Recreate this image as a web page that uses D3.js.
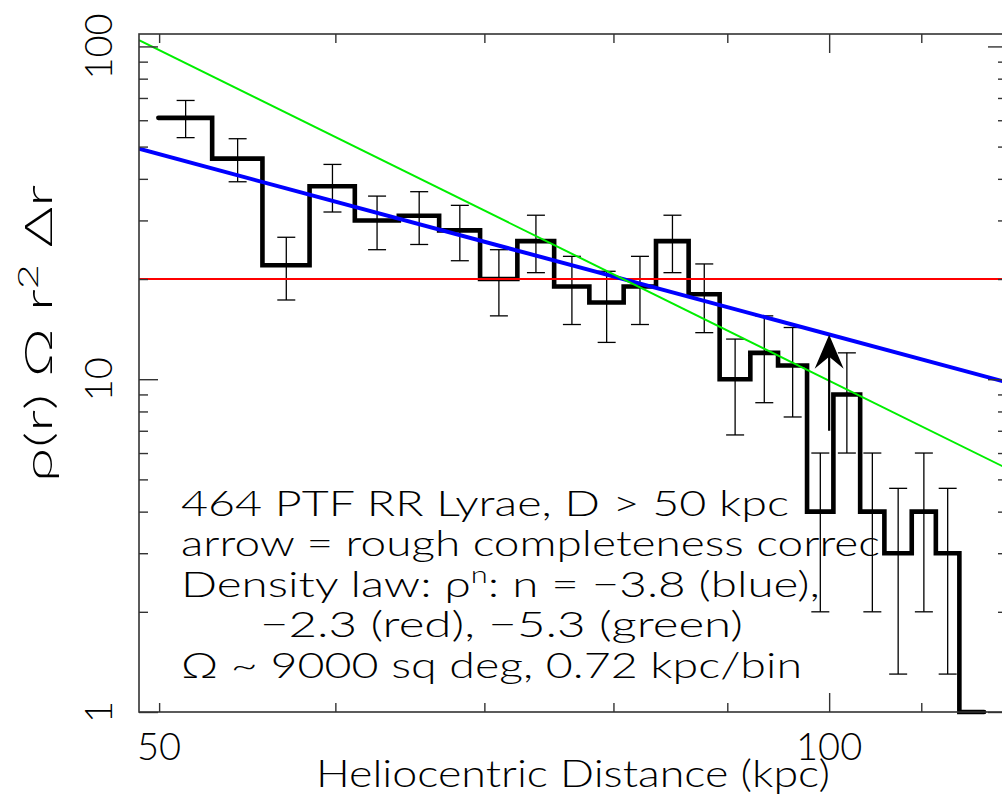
<!DOCTYPE html>
<html>
<head>
<meta charset="utf-8">
<script src="https://cdn.jsdelivr.net/npm/d3@7"></script>
<style>
  html, body { margin: 0; padding: 0; background: #fff; }
  svg { display: block; }
  text { font-family: Lato, "Liberation Sans", sans-serif; font-weight: 300; fill: #000; }
</style>
</head>
<body>
<svg id="chart" width="1002" height="801"></svg>
<script>
// ---------------- data ----------------
const binEdges = [49.96, 52.82, 55.64, 58.42, 61.22, 64.07, 66.80, 69.69, 72.43, 75.24, 78.03, 80.85,
                  83.60, 86.47, 89.29, 92.17, 94.85, 97.74, 100.44, 103.26, 105.88, 108.92, 111.67, 114.42, 117.39];
const counts = [61, 46, 22, 38, 30, 31, 28, 20, 26, 19, 17, 19, 26, 18, 10, 12, 11, 4, 9, 4, 3, 4, 3, 1];
const errors = [7.8, 6.8, 4.7, 6.2, 5.5, 5.6, 5.3, 4.5, 5.1, 4.4, 4.1, 4.4, 5.1, 4.2, 3.2, 3.5, 3.3, 2.0, 3.0, 2.0, 1.7, 2.0, 1.7, null];

// power-law fits  y = pivotY * (r / pivotR)^(slope)
const fitNames  = ["red", "blue", "green"];
const fitSlopes = [0, -1.8, -3.3];
const fitPivotR = 80.8;
const fitPivotY = 20;

// completeness-correction arrow
const arrowR = 100, arrowFrom = 7.0, arrowTo = 13.6;

const xMajorTicks = [100];
const xMinorTicks = [50, 60, 70, 80, 90, 110, 120];
const xTickLabels = [50, 100];
const yMajorTicks = [1, 10, 100];
const yMinorTicks = [2, 3, 4, 5, 6, 7, 8, 9, 20, 30, 40, 50, 60, 70, 80, 90];
const yTickLabels = [1, 10, 100];

const textLines = [
  "464 PTF RR Lyrae, D > 50 kpc",
  "arrow = rough completeness correc",
  "Density law: ρ|n|: n = −3.8 (blue),",
  "−2.3 (red), −5.3 (green)",
  "Ω ~ 9000 sq deg, 0.72 kpc/bin"
];

// ---------------- layout ----------------
const L = 139, R = 1007, T = 34, B = 712;
const svg = d3.select("#chart");
const x = d3.scaleLog().domain([48.97, 120.2]).range([L, R]);
const y = d3.scaleLog().domain([1, 108.97]).range([B, T]);

svg.append("defs").append("clipPath").attr("id", "clip")
  .append("rect").attr("x", L).attr("y", T).attr("width", R - L).attr("height", B - T + 4);

const plot = svg.append("g").attr("clip-path", "url(#clip)");

// histogram (step line)
const stepPts = [];
counts.forEach((c, i) => {
  stepPts.push([binEdges[i], c]);
  stepPts.push([binEdges[i + 1], c]);
});
plot.append("path")
  .attr("d", d3.line().x(d => x(d[0])).y(d => y(d[1]))(stepPts))
  .attr("fill", "none").attr("stroke", "#000").attr("stroke-width", 4.6)
  .attr("stroke-linejoin", "miter").attr("stroke-linecap", "round");

// error bars
const eb = plot.append("g").attr("stroke", "#000").attr("stroke-width", 1.3);
counts.forEach((c, i) => {
  if (errors[i] == null) return;
  const cx = x((binEdges[i] + binEdges[i + 1]) / 2);
  const y1 = y(c + errors[i]), y0 = y(Math.max(c - errors[i], 0.5));
  eb.append("line").attr("x1", cx).attr("x2", cx).attr("y1", y1).attr("y2", y0);
  eb.append("line").attr("x1", cx - 9).attr("x2", cx + 9).attr("y1", y1).attr("y2", y1);
  eb.append("line").attr("x1", cx - 9).attr("x2", cx + 9).attr("y1", y0).attr("y2", y0);
});

// fit lines
const fitColor = { red: "#ff0000", blue: "#0000ff", green: "#00ee00" };
const fitWidth = { red: 2, blue: 4, green: 2 };
const xd = x.domain();
fitNames.forEach((nm, i) => {
  const pts = xd.map(r => [r, fitPivotY * Math.pow(r / fitPivotR, fitSlopes[i])]);
  plot.append("path")
    .attr("d", d3.line().x(d => x(d[0])).y(d => y(d[1]))(pts))
    .attr("fill", "none").attr("stroke", fitColor[nm]).attr("stroke-width", fitWidth[nm]);
});

// arrow
const ax = x(arrowR), ayTip = y(arrowTo), ayBase = y(arrowFrom);
plot.append("line").attr("x1", ax).attr("x2", ax).attr("y1", ayBase).attr("y2", ayTip + 20)
  .attr("stroke", "#000").attr("stroke-width", 2.2);
plot.append("path")
  .attr("d", `M${ax},${ayTip} L${ax + 14.5},${ayTip + 34} L${ax},${ayTip + 22} L${ax - 14.5},${ayTip + 34} Z`)
  .attr("fill", "#000");

// axes (ticks inward on all four sides)
const frameCol = "#333";
function tickAxis(axisFn, scale, vals, size, tr) {
  const g = svg.append("g").attr("transform", tr)
    .call(axisFn(scale).tickValues(vals).tickSize(size).tickFormat(""));
  g.select(".domain").remove();
  g.selectAll("line").attr("stroke", frameCol).attr("stroke-width", 1.4);
  return g;
}
tickAxis(d3.axisBottom, x, xMinorTicks, -9, `translate(0,${B})`);
tickAxis(d3.axisBottom, x, xMajorTicks, -19, `translate(0,${B})`);
tickAxis(d3.axisTop, x, xMinorTicks, -9, `translate(0,${T})`);
tickAxis(d3.axisTop, x, xMajorTicks, -19, `translate(0,${T})`);
tickAxis(d3.axisLeft, y, yMinorTicks, -9, `translate(${L},0)`);
tickAxis(d3.axisLeft, y, yMajorTicks, -19, `translate(${L},0)`);
tickAxis(d3.axisRight, y, yMinorTicks, -9, `translate(${R},0)`);
tickAxis(d3.axisRight, y, yMajorTicks, -19, `translate(${R},0)`);

svg.append("rect").attr("x", L).attr("y", T).attr("width", R - L).attr("height", B - T)
  .attr("fill", "none").attr("stroke", frameCol).attr("stroke-width", 1.6);

// tick labels
const fs = 38;
svg.append("g").selectAll("text").data(xTickLabels).join("text")
  .attr("x", d => x(d)).attr("y", 760).attr("text-anchor", "middle")
  .attr("font-size", fs).text(d => d);
svg.append("g").selectAll("text").data(yTickLabels).join("text")
  .attr("transform", d => `translate(112,${y(d)}) rotate(-90)`)
  .attr("text-anchor", "middle").attr("font-size", fs).text(d => d);

// axis titles
svg.append("text").attr("x", 316).attr("y", 787).attr("font-size", fs)
  .attr("textLength", 514).attr("lengthAdjust", "spacingAndGlyphs")
  .text("Heliocentric Distance (kpc)");

const yl = svg.append("text").attr("transform", "translate(52,482) rotate(-90)")
  .attr("font-size", fs).attr("textLength", 297).attr("lengthAdjust", "spacingAndGlyphs");
yl.append("tspan").text("ρ(r)  Ω  r");
yl.append("tspan").attr("font-size", fs * 0.7).attr("dy", -14).text("2");
yl.append("tspan").attr("dy", 14).text("  Δr");

// annotation text
const afs = 35;
const linePos = [[181, 516, 608], [181, 556, 699], [181, 597, 639], [260, 637, 483], [181, 678, 621]];
textLines.forEach((s, i) => {
  const [tx, ty, tl] = linePos[i];
  const t = svg.append("text").attr("x", tx).attr("y", ty).attr("font-size", afs)
    .attr("textLength", tl).attr("lengthAdjust", "spacingAndGlyphs");
  const parts = s.split("|");
  parts.forEach((p, k) => {
    if (k === 1) {
      t.append("tspan").attr("font-size", afs * 0.65).attr("dy", -14).text(p);
    } else if (k === 2) {
      t.append("tspan").attr("dy", 14).text(p);
    } else {
      t.append("tspan").text(p);
    }
  });
});
</script>
</body>
</html>
